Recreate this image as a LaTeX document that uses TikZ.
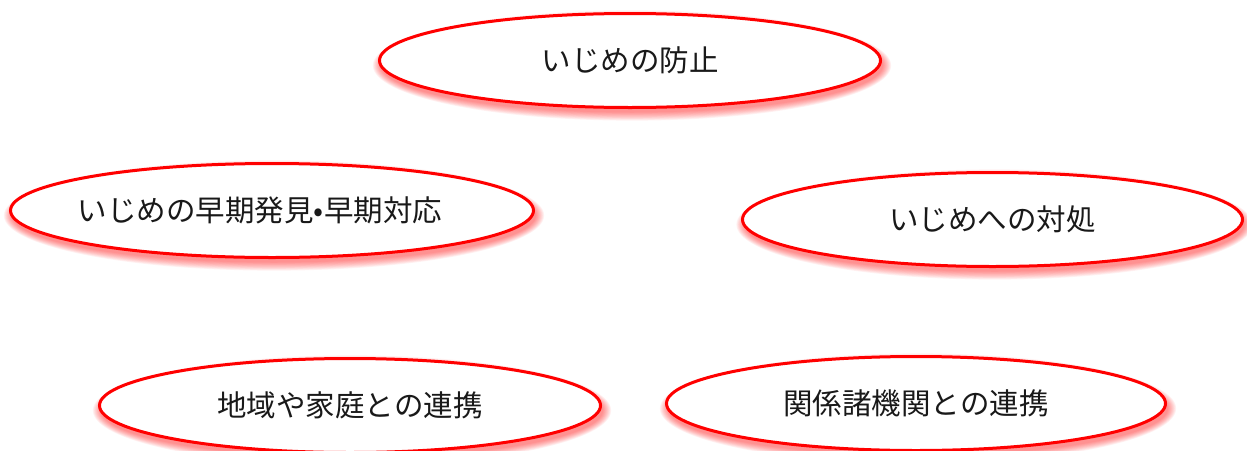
\documentclass[tikz,border=0pt]{standalone}
\usepackage{fontspec}
\setmainfont{Noto Sans CJK JP}
\usetikzlibrary{shapes.geometric}
\tikzset{
  bubble/.style={ellipse, draw=red, line width=3pt, fill=white, inner sep=0pt,
    minimum height=94pt, font=\fontsize{29.5}{31}\selectfont, text=black!90},
}
\newcommand\glowell[4]{%
  \foreach \k in {0,...,9}{%
    \fill[red, opacity=0.055] ({#1+2},{#2-5}) ellipse [x radius={(#3+\k*0.9)*1pt}, y radius={(#4+\k*0.9)*1pt}];
  }}
\begin{document}
\begin{tikzpicture}[x=1pt,y=1pt]
  \useasboundingbox (0,0) rectangle (1247,-450);
  \glowell{630}{-60.5}{251}{47}
  \glowell{272}{-210.5}{262}{47}
  \glowell{992.5}{-219.5}{250}{47}
  \glowell{350}{-405.5}{251}{47}
  \glowell{916}{-403.5}{250}{47}
  \node[bubble, minimum width=501pt] (prev) at (630,-60.5) {いじめの防止};
  \node[bubble, minimum width=523pt] (early) at (272,-210.5) {\hspace*{-24pt}いじめの早期発見•早期対応};
  \node[bubble, minimum width=500pt] (resp) at (992.5,-219.5) {いじめへの対処};
  \node[bubble, minimum width=501pt] (local) at (350,-405.5) {地域や家庭との連携};
  \node[bubble, minimum width=499pt] (agency) at (916,-403.5) {関係諸機関との連携};
\end{tikzpicture}
\end{document}
